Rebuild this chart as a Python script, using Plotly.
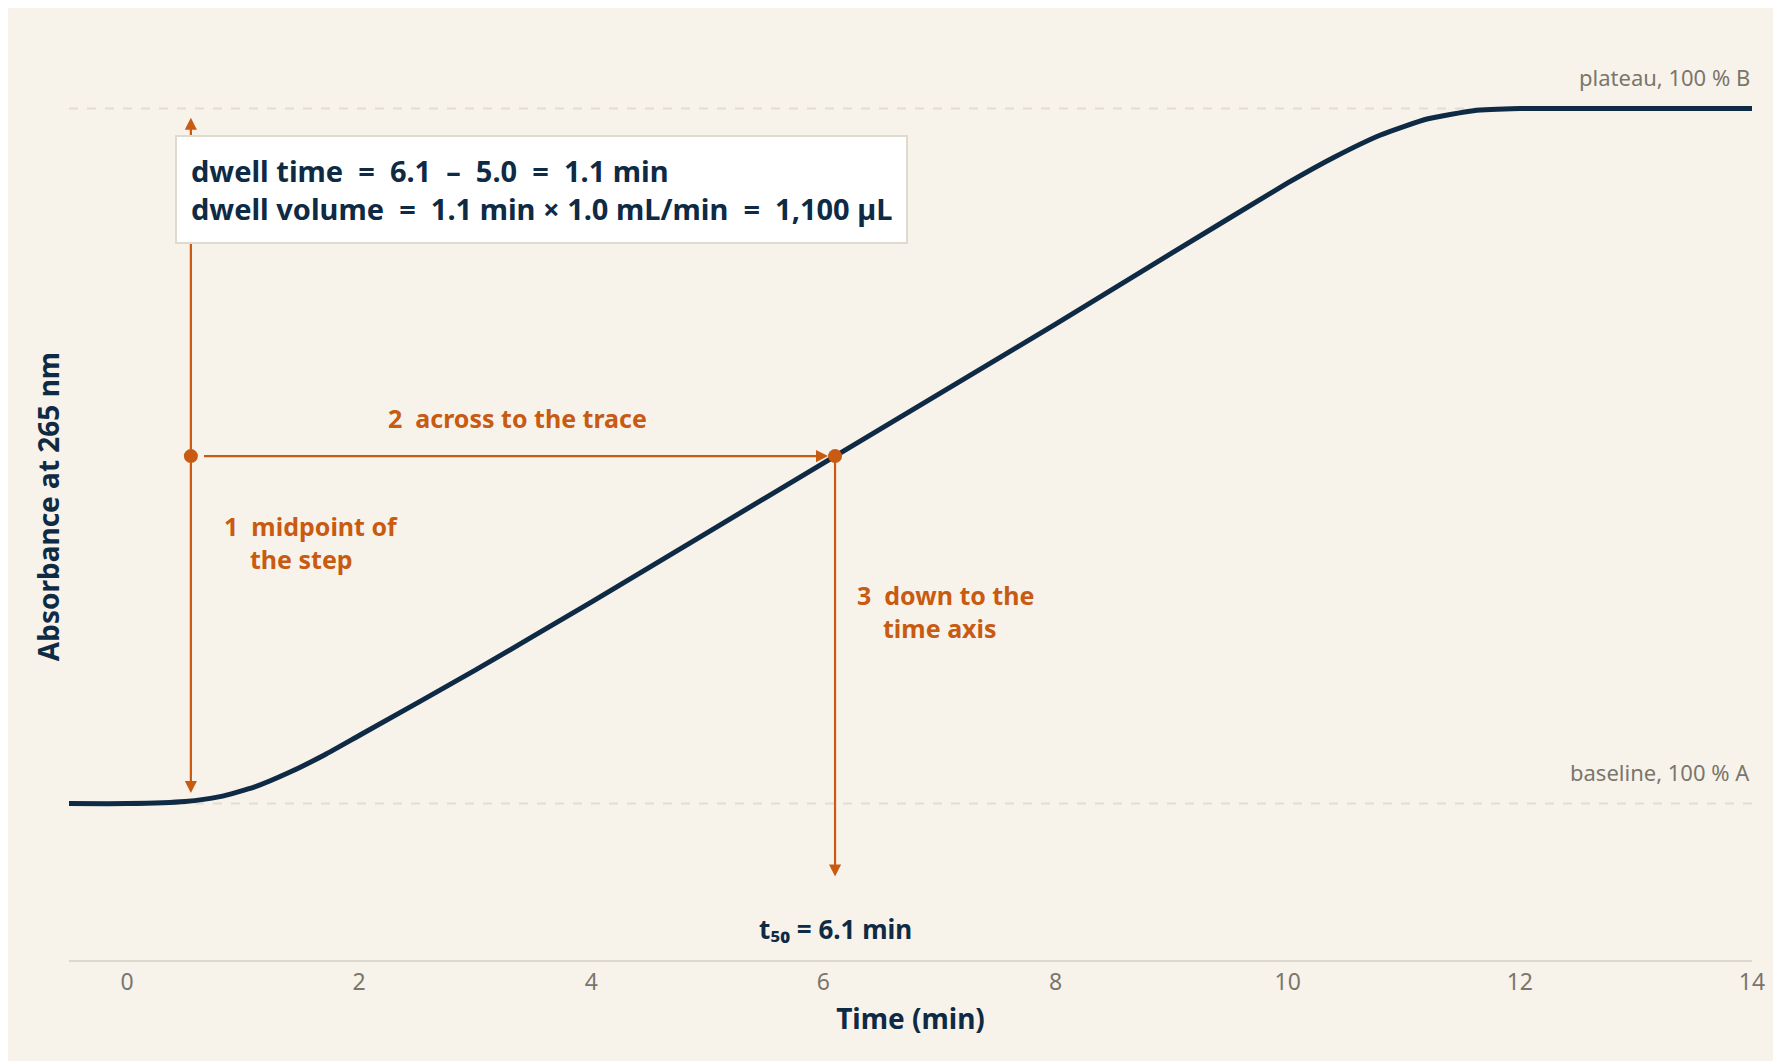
import plotly.graph_objects as go

time_min = [-0.5, 0, 0.5, 0.8, 1.1, 1.4, 1.7, 2, 3, 4, 5, 6, 7, 8, 9, 10, 10.4, 10.8, 11.2, 11.6, 12, 13, 14]
absorb = [0, 0, 0.003, 0.01, 0.024, 0.045, 0.07, 0.098, 0.192, 0.29, 0.39, 0.49, 0.59, 0.69, 0.792, 0.893, 0.93, 0.962, 0.985, 0.997, 1, 1, 1]
x_ticks = [0, 2, 4, 6, 8, 10, 12, 14]
t_mid_x = 0.55
t50 = 6.1
mid_y = 0.5

NAVY = "#0f2a44"; ORANGE = "#c85a12"; GRAY = "#7a766d"; BG = "#f7f3ea"
F = "Noto Sans"

fig = go.Figure()
for yv in [0, 1]:
    fig.add_trace(go.Scatter(x=[-0.5, 14], y=[yv, yv], mode="lines",
                             line=dict(color="#e2ddd0", width=2, dash="dash"), hoverinfo="skip"))
fig.add_trace(go.Scatter(x=time_min, y=absorb, mode="lines",
                         line=dict(color=NAVY, width=5, shape="spline", smoothing=0.5)))
fig.add_trace(go.Scatter(x=[t_mid_x, t50], y=[mid_y, mid_y], mode="markers",
                         marker=dict(color=ORANGE, size=14)))

def arrow(x0, y0, x1, y1, both=False):
    fig.add_annotation(x=x1, y=y1, ax=x0, ay=y0, xref="x", yref="y", axref="x", ayref="y",
                       showarrow=True, arrowhead=2, startarrowhead=2, arrowsize=1.1, startarrowsize=1.1,
                       arrowwidth=2.2, arrowcolor=ORANGE, arrowside="end+start" if both else "end", text="")

arrow(t_mid_x, 0.013, t_mid_x, 0.987, both=True)
arrow(t_mid_x + 0.1, mid_y, t50 - 0.06, mid_y)
arrow(t50, mid_y, t50, -0.105)

def txt(x, y, s, color=ORANGE, size=25, xanchor="left", bold=True, align="left"):
    fig.add_annotation(x=x, y=y, xref="x", yref="y", text=f"<b>{s}</b>" if bold else s, showarrow=False,
                       xanchor=xanchor, align=align, font=dict(family=F, size=size, color=color))

txt(3.36, 0.555, "2  across to the trace", xanchor="center")
txt(0.82, 0.375, "1  midpoint of<br>    the step")
txt(6.27, 0.276, "3  down to the<br>    time axis")
txt(t50, -0.18, "t₅₀ = 6.1 min", color=NAVY, size=26, xanchor="center")
txt(14, 1.045, "plateau, 100 % B", color=GRAY, size=22, xanchor="right", bold=False)
txt(14, 0.046, "baseline, 100 % A", color=GRAY, size=22, xanchor="right", bold=False)

fig.add_annotation(x=0.41, y=0.883, xref="x", yref="y", xanchor="left", yanchor="middle", showarrow=False,
                   align="left", bgcolor="white", bordercolor="#dedad0", borderwidth=2, borderpad=14,
                   text="<b>dwell time  =  6.1  –  5.0  =  1.1 min</b><br><b>dwell volume  =  1.1 min × 1.0 mL/min  =  1,100 µL</b>",
                   font=dict(family=F, size=29, color=NAVY))

fig.update_layout(
    width=1781, height=1061, paper_bgcolor=BG, plot_bgcolor=BG, showlegend=False,
    margin=dict(l=61, r=37, t=45, b=109),
    xaxis=dict(range=[-0.5, 14], tickvals=x_ticks, showgrid=False, zeroline=False,
               showline=True, linecolor="#dcd8ce", linewidth=2, ticks="",
               tickfont=dict(family=F, size=23, color=GRAY),
               title=dict(text="<b>Time (min)</b>", font=dict(family=F, size=28, color=NAVY), standoff=14)),
    yaxis=dict(range=[-0.225, 1.08], showticklabels=False, showgrid=False, zeroline=False,
               title=dict(text="<b>Absorbance at 265 nm</b>", font=dict(family=F, size=28, color=NAVY), standoff=0)),
)
fig.write_html("out.html")
